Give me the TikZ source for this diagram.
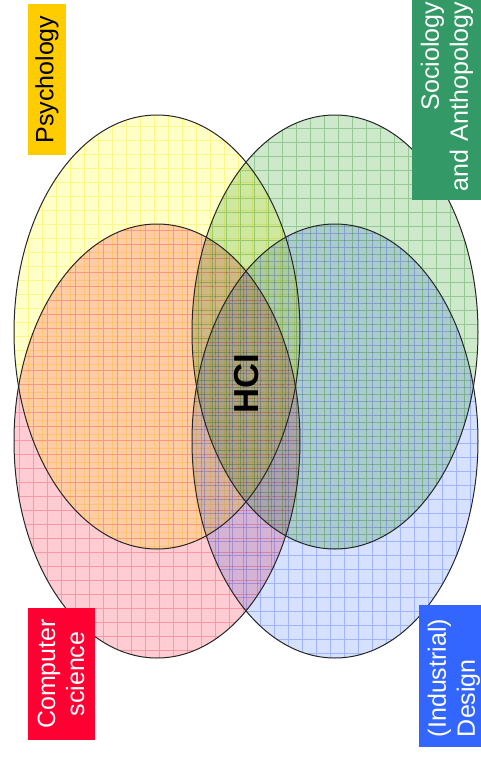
\documentclass[tikz,border=0pt]{standalone}
\usepackage{fontspec}
\setmainfont{Liberation Sans}
\definecolor{yfill}{RGB}{255,255,200}
\definecolor{rfill}{RGB}{255,204,212}
\definecolor{gfill}{RGB}{206,232,204}
\definecolor{bfill}{RGB}{214,224,255}
\definecolor{ygrid}{RGB}{255,246,175}
\definecolor{rgrid}{RGB}{252,190,198}
\definecolor{ggrid}{RGB}{185,222,185}
\definecolor{bgrid}{RGB}{192,206,254}
\definecolor{psy}{RGB}{255,204,0}
\definecolor{soc}{RGB}{51,153,102}
\definecolor{cs}{RGB}{255,0,51}
\definecolor{des}{RGB}{51,102,255}
\begin{document}
\begin{tikzpicture}[x=0.75pt,y=-0.75pt,
  setfill/.style={blend mode=multiply},
  gridline/.style={line width=0.45pt,blend mode=multiply},
  outline/.style={draw=black!85,line width=0.75pt},
  labelbox/.style={rotate=90,font=\fontsize{18.75pt}{21.75pt}\selectfont,inner ysep=0pt},
  hcitext/.style={rotate=90,font=\fontsize{26pt}{30pt}\selectfont\bfseries}]
\useasboundingbox (0,0) rectangle (480,758);
% ellipse centres
\coordinate (cy) at (157,332);
\coordinate (cr) at (157,441);
\coordinate (cg) at (335,332);
\coordinate (cb) at (335,441);
% fills
\fill[yfill,setfill] (cy) ellipse [x radius=143, y radius=217];
\fill[rfill,setfill] (cr) ellipse [x radius=143, y radius=217];
\fill[gfill,setfill] (cg) ellipse [x radius=143, y radius=217];
\fill[bfill,setfill] (cb) ellipse [x radius=143, y radius=217];
% grids
\begin{scope}
  \clip (cy) ellipse [x radius=143, y radius=217];
  \draw[ygrid,gridline,step=10.5pt] (0,0) grid (480,758);
\end{scope}
\begin{scope}
  \clip (cr) ellipse [x radius=143, y radius=217];
  \draw[rgrid,gridline,step=10.5pt,xshift=4pt,yshift=-5pt] (0,0) grid (480,758);
\end{scope}
\begin{scope}
  \clip (cg) ellipse [x radius=143, y radius=217];
  \draw[ggrid,gridline,step=10.5pt,xshift=2pt,yshift=-2pt] (0,0) grid (480,758);
\end{scope}
\begin{scope}
  \clip (cb) ellipse [x radius=143, y radius=217];
  \draw[bgrid,gridline,step=10.5pt,xshift=6pt,yshift=-7pt] (0,0) grid (480,758);
\end{scope}
% outlines
\draw[outline] (cy) ellipse [x radius=143, y radius=217];
\draw[outline] (cr) ellipse [x radius=143, y radius=217];
\draw[outline] (cg) ellipse [x radius=143, y radius=217];
\draw[outline] (cb) ellipse [x radius=143, y radius=217];
% labels
\node[labelbox,fill=psy,text=black,minimum width=113.25pt,minimum height=28.5pt] (psyl) at (47,79.5) {Psychology};
\node[labelbox,fill=soc,text=white,align=right,text width=142.5pt,inner xsep=6pt,minimum height=52.5pt] (socl) at (447,97) {Sociology\\and Anthopology};
\node[labelbox,fill=cs,text=white,align=center,minimum width=99pt,minimum height=50.25pt] (csl) at (61,674) {Computer\\science};
\node[labelbox,fill=des,text=white,align=left,text width=91.5pt,inner xsep=7.5pt,minimum height=52.5pt] (desl) at (454,676) {(Industrial)\\Design};
\node[hcitext] (hci) at (246.5,384) {HCI};
\end{tikzpicture}
\end{document}
